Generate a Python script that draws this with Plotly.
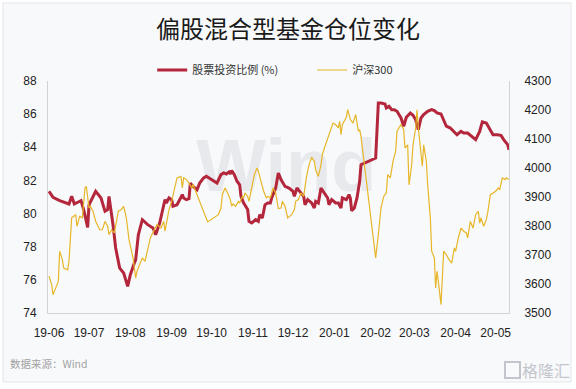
import plotly.graph_objects as go

# ---------------- data ----------------
position_dates = [
    "2019-06-03","2019-06-06","2019-06-11","2019-06-14","2019-06-18","2019-06-20","2019-06-22","2019-06-25",
    "2019-06-27","2019-06-29","2019-07-02","2019-07-03","2019-07-08","2019-07-12","2019-07-15","2019-07-17",
    "2019-07-18","2019-07-21","2019-07-23","2019-07-26","2019-07-29","2019-08-01","2019-08-03","2019-08-06",
    "2019-08-07","2019-08-09","2019-08-12","2019-08-16","2019-08-20","2019-08-22","2019-08-25","2019-08-27",
    "2019-08-29","2019-08-30","2019-09-01","2019-09-03","2019-09-04","2019-09-07","2019-09-09","2019-09-11",
    "2019-09-12","2019-09-14","2019-09-16","2019-09-17","2019-09-19","2019-09-22","2019-09-24","2019-09-27",
    "2019-09-29","2019-10-03","2019-10-07","2019-10-10","2019-10-12","2019-10-14","2019-10-16","2019-10-17",
    "2019-10-18","2019-10-20","2019-10-22","2019-10-24","2019-10-25","2019-10-27","2019-10-30","2019-10-31",
    "2019-11-02","2019-11-05","2019-11-07","2019-11-08","2019-11-10","2019-11-12","2019-11-14","2019-11-16",
    "2019-11-17","2019-11-20","2019-11-22","2019-11-24","2019-11-27","2019-11-30","2019-12-03","2019-12-04",
    "2019-12-06","2019-12-08","2019-12-11","2019-12-12","2019-12-14","2019-12-17","2019-12-19","2019-12-20",
    "2019-12-22","2019-12-24","2019-12-27","2019-12-29","2019-12-30","2020-01-01","2020-01-04","2020-01-06",
    "2020-01-08","2020-01-09","2020-01-12","2020-01-14","2020-01-15","2020-01-16","2020-01-18","2020-01-20",
    "2020-01-22","2020-01-23","2020-02-03","2020-02-05","2020-02-07","2020-02-10","2020-02-11","2020-02-13",
    "2020-02-15","2020-02-17","2020-02-19","2020-02-22","2020-02-24","2020-02-26","2020-02-29","2020-03-02",
    "2020-03-04","2020-03-06","2020-03-08","2020-03-10","2020-03-13","2020-03-16","2020-03-18","2020-03-20",
    "2020-03-23","2020-03-25","2020-03-27","2020-03-30","2020-04-02","2020-04-04","2020-04-07","2020-04-09",
    "2020-04-12","2020-04-15","2020-04-18","2020-04-21","2020-04-23","2020-04-26","2020-04-28","2020-05-01",
    "2020-05-04","2020-05-07","2020-05-09","2020-05-12","2020-05-13",
]
position_values = [
    81.34,80.98,80.78,80.70,80.58,81.04,80.58,80.70,
    80.78,80.24,79.17,80.53,81.34,80.94,80.14,80.24,
    81.04,79.33,77.92,76.71,76.41,75.61,76.31,77.02,
    77.21,78.72,79.63,79.33,79.13,78.72,79.43,80.14,
    80.84,80.64,80.94,80.84,80.44,80.53,80.84,81.14,
    80.94,80.84,80.90,81.84,81.64,81.44,81.84,82.15,
    82.25,82.05,81.84,82.35,82.45,82.39,82.51,82.39,
    82.59,82.35,81.95,81.74,81.04,80.64,80.24,79.53,
    79.43,79.63,79.53,79.93,79.73,80.53,80.64,80.64,
    80.94,81.54,82.45,82.05,81.64,81.54,81.34,81.04,
    81.54,81.34,81.04,80.53,80.84,80.64,80.34,80.74,
    80.64,81.54,81.14,80.94,80.53,80.84,80.64,80.64,
    80.34,80.94,80.84,81.14,80.94,80.17,80.34,80.94,
    81.95,82.95,83.35,86.67,86.67,86.61,86.37,86.47,
    86.27,86.27,86.17,85.77,85.27,85.81,86.07,85.93,
    85.66,85.06,85.77,85.97,86.17,86.27,86.21,86.07,
    86.01,85.60,85.27,85.16,84.92,84.76,84.96,84.86,
    84.86,84.66,84.46,84.96,85.53,85.47,85.16,84.76,
    84.76,84.72,84.46,84.16,83.85,
]

hs300_dates = [
    "2019-06-03","2019-06-05","2019-06-06","2019-06-08","2019-06-10","2019-06-11","2019-06-13","2019-06-14",
    "2019-06-17","2019-06-18","2019-06-20","2019-06-23","2019-06-24","2019-06-26","2019-06-28","2019-06-30",
    "2019-07-01","2019-07-03","2019-07-04","2019-07-06","2019-07-08","2019-07-11","2019-07-13","2019-07-15",
    "2019-07-17","2019-07-18","2019-07-20","2019-07-22","2019-07-25","2019-07-27","2019-07-29","2019-07-31",
    "2019-08-02","2019-08-05","2019-08-07","2019-08-08","2019-08-10","2019-08-12","2019-08-14","2019-08-16",
    "2019-08-18","2019-08-21","2019-08-23","2019-08-26","2019-08-28","2019-08-29","2019-08-31","2019-09-01",
    "2019-09-03","2019-09-05","2019-09-07","2019-09-10","2019-09-11","2019-09-12","2019-09-14","2019-09-16",
    "2019-09-18","2019-09-19","2019-09-21","2019-09-23","2019-09-25","2019-09-27","2019-09-30","2019-10-08",
    "2019-10-10","2019-10-11","2019-10-13","2019-10-15","2019-10-17","2019-10-18","2019-10-19","2019-10-21",
    "2019-10-23","2019-10-24","2019-10-26","2019-10-27","2019-10-28","2019-10-30","2019-10-31","2019-11-02",
    "2019-11-04","2019-11-06","2019-11-07","2019-11-09","2019-11-11","2019-11-13","2019-11-14","2019-11-16",
    "2019-11-17","2019-11-18","2019-11-20","2019-11-22","2019-11-24","2019-11-25","2019-11-27","2019-11-29",
    "2019-12-02","2019-12-04","2019-12-05","2019-12-07","2019-12-09","2019-12-11","2019-12-13","2019-12-15",
    "2019-12-17","2019-12-19","2019-12-20","2019-12-22","2019-12-24","2019-12-25","2019-12-27","2019-12-29",
    "2019-12-31","2020-01-02","2020-01-04","2020-01-06","2020-01-07","2020-01-08","2020-01-09","2020-01-12",
    "2020-01-13","2020-01-15","2020-01-17","2020-01-19","2020-01-21","2020-01-22","2020-01-23","2020-02-03",
    "2020-02-05","2020-02-07","2020-02-09","2020-02-11","2020-02-12","2020-02-14","2020-02-16","2020-02-18",
    "2020-02-19","2020-02-21","2020-02-22","2020-02-24","2020-02-25","2020-02-27","2020-02-28","2020-03-01",
    "2020-03-02","2020-03-04","2020-03-05","2020-03-06","2020-03-08","2020-03-09","2020-03-10","2020-03-12",
    "2020-03-13","2020-03-15","2020-03-16","2020-03-18","2020-03-19","2020-03-20","2020-03-21","2020-03-23",
    "2020-03-25","2020-03-27","2020-03-29","2020-03-31","2020-04-02","2020-04-03","2020-04-05","2020-04-07",
    "2020-04-09","2020-04-11","2020-04-12","2020-04-14","2020-04-16","2020-04-18","2020-04-20","2020-04-21",
    "2020-04-22","2020-04-24","2020-04-26","2020-04-27","2020-04-29","2020-05-01","2020-05-03","2020-05-05",
    "2020-05-06","2020-05-08","2020-05-10","2020-05-11","2020-05-13",
]
hs300_values = [
    3627,3598,3563,3586,3609,3713,3684,3655,
    3649,3678,3828,3839,3799,3833,3828,3931,
    3937,3862,3868,3851,3816,3787,3787,3816,
    3799,3770,3787,3776,3851,3856,3868,3828,
    3753,3690,3621,3644,3667,3690,3678,3724,
    3759,3787,3805,3793,3816,3782,3828,3856,
    3885,3931,3966,3971,3931,3966,3960,3948,
    3931,3943,3920,3897,3868,3851,3814,3839,
    3862,3908,3931,3914,3891,3868,3876,3868,
    3885,3879,3902,3897,3914,3902,3885,3931,
    3977,4000,3989,3954,3920,3897,3902,3897,
    3914,3931,3914,3860,3862,3885,3868,3828,
    3839,3856,3885,3891,3914,3902,3966,4011,
    4037,4023,3994,3971,4011,4046,4075,4103,
    4132,4155,4149,4138,4161,4115,4149,4175,
    4201,4167,4155,4184,4127,4132,4109,3690,
    3770,3862,3902,3914,3977,3966,4023,4058,
    4127,4144,4149,4132,4069,4080,3942,4011,
    4080,4138,4201,4138,4034,4006,4080,4023,
    3942,3828,3713,3690,3586,3644,3609,3529,
    3713,3701,3684,3672,3724,3713,3759,3793,
    3782,3776,3759,3816,3793,3839,3851,3810,
    3828,3799,3822,3845,3908,3914,3920,3931,
    3925,3966,3960,3966,3960,
]

tick_dates = ["2019-06-03","2019-07-03","2019-08-03","2019-09-03","2019-10-03","2019-11-03",
              "2019-12-03","2020-01-03","2020-02-03","2020-03-03","2020-04-03","2020-05-03"]
tick_labels = ["19-06","19-07","19-08","19-09","19-10","19-11",
               "19-12","20-01","20-02","20-03","20-04","20-05"]

position_name = "股票投资比例 (%)"
hs300_name = "沪深300"

# ---------------- figure ----------------
FONT = "Arial, Liberation Sans, Noto Sans CJK SC, sans-serif"
CJK = "Noto Sans CJK SC, sans-serif"
BG = "#f8f9fb"

W, H = 576, 389
ML, MR, MT, MB = 48, 67, 81, 76
PW, PH = W - ML - MR, H - MT - MB


def px_x(x):
    return (x - ML) / PW


def px_y(y):
    return (H - MB - y) / PH


fig = go.Figure()

# watermark (behind the lines)
fig.add_trace(go.Scatter(
    x=["2019-11-28"], y=[82.5], mode="text", text=["<b>Wind</b>"],
    textfont=dict(family=FONT, size=74, color="#e8e9ed"),
    showlegend=False, hoverinfo="skip", yaxis="y"))

fig.add_trace(go.Scatter(
    x=position_dates, y=position_values, name=position_name, mode="lines",
    line=dict(color="#b3263b", width=3), yaxis="y"))

fig.add_trace(go.Scatter(
    x=hs300_dates, y=hs300_values, name=hs300_name, mode="lines",
    line=dict(color="#e7b628", width=1.2), yaxis="y2"))

fig.update_layout(
    width=W, height=H,
    margin=dict(l=ML, r=MR, t=MT, b=MB),
    paper_bgcolor="#ffffff", plot_bgcolor="rgba(0,0,0,0)",
    font=dict(family=FONT, size=12, color="#222"),
    title=dict(text="偏股混合型基金仓位变化", x=0.5, xanchor="center",
               yref="container", y=1 - 30 / H, yanchor="middle",
               font=dict(family=CJK, size=24, color="#1a1a1a")),
    showlegend=True,
    legend=dict(orientation="h", x=0.226, xanchor="left", y=px_y(70), yanchor="middle",
                font=dict(family=CJK, size=11, color="#333"),
                bgcolor="rgba(0,0,0,0)", entrywidth=115, entrywidthmode="pixels",
                traceorder="normal"),
    xaxis=dict(type="date", range=["2019-06-02 06:00", "2020-05-13"],
               tickmode="array", tickvals=tick_dates, ticktext=tick_labels, tickangle=0,
               showgrid=False, zeroline=False, showline=True, linecolor="#d0d3d8",
               linewidth=1, ticks="", ticklabelstandoff=9,
               tickfont=dict(family=FONT, size=12, color="#222")),
    yaxis=dict(range=[74, 88], dtick=2, tick0=74, showgrid=False, zeroline=False,
               showline=True, linecolor="#d0d3d8", linewidth=1, ticks="",
               ticklabelstandoff=8, tickfont=dict(family=FONT, size=12, color="#222")),
    yaxis2=dict(range=[3500, 4300], dtick=100, tick0=3500, overlaying="y", side="right",
                showgrid=False, zeroline=False, showline=True, linecolor="#d0d3d8",
                linewidth=1, ticks="", ticklabelstandoff=12,
                tickfont=dict(family=FONT, size=12, color="#222")),
    annotations=[
        dict(text="数据来源：Wind", xref="paper", yref="paper", x=px_x(8), y=px_y(363),
             xanchor="left", yanchor="middle", showarrow=False,
             font=dict(family=CJK, size=10.5, color="#a2a2a2")),
        dict(text="格隆汇", xref="paper", yref="paper", x=px_x(546), y=px_y(370),
             xanchor="center", yanchor="middle", showarrow=False,
             font=dict(family=CJK, size=16, color="#c2c6cc")),
    ],
    shapes=[
        # card background with a light frame
        dict(type="rect", xref="paper", yref="paper", layer="below",
             x0=px_x(3), x1=px_x(571), y0=px_y(382), y1=px_y(3),
             line=dict(color="#e3e5e9", width=1), fillcolor=BG),
        # logo icon
        dict(type="rect", xref="paper", yref="paper",
             x0=px_x(505), x1=px_x(520), y0=px_y(378), y1=px_y(362),
             line=dict(color="#c2c6cc", width=2), fillcolor="rgba(0,0,0,0)"),
    ],
)

fig.write_html("out.html")
